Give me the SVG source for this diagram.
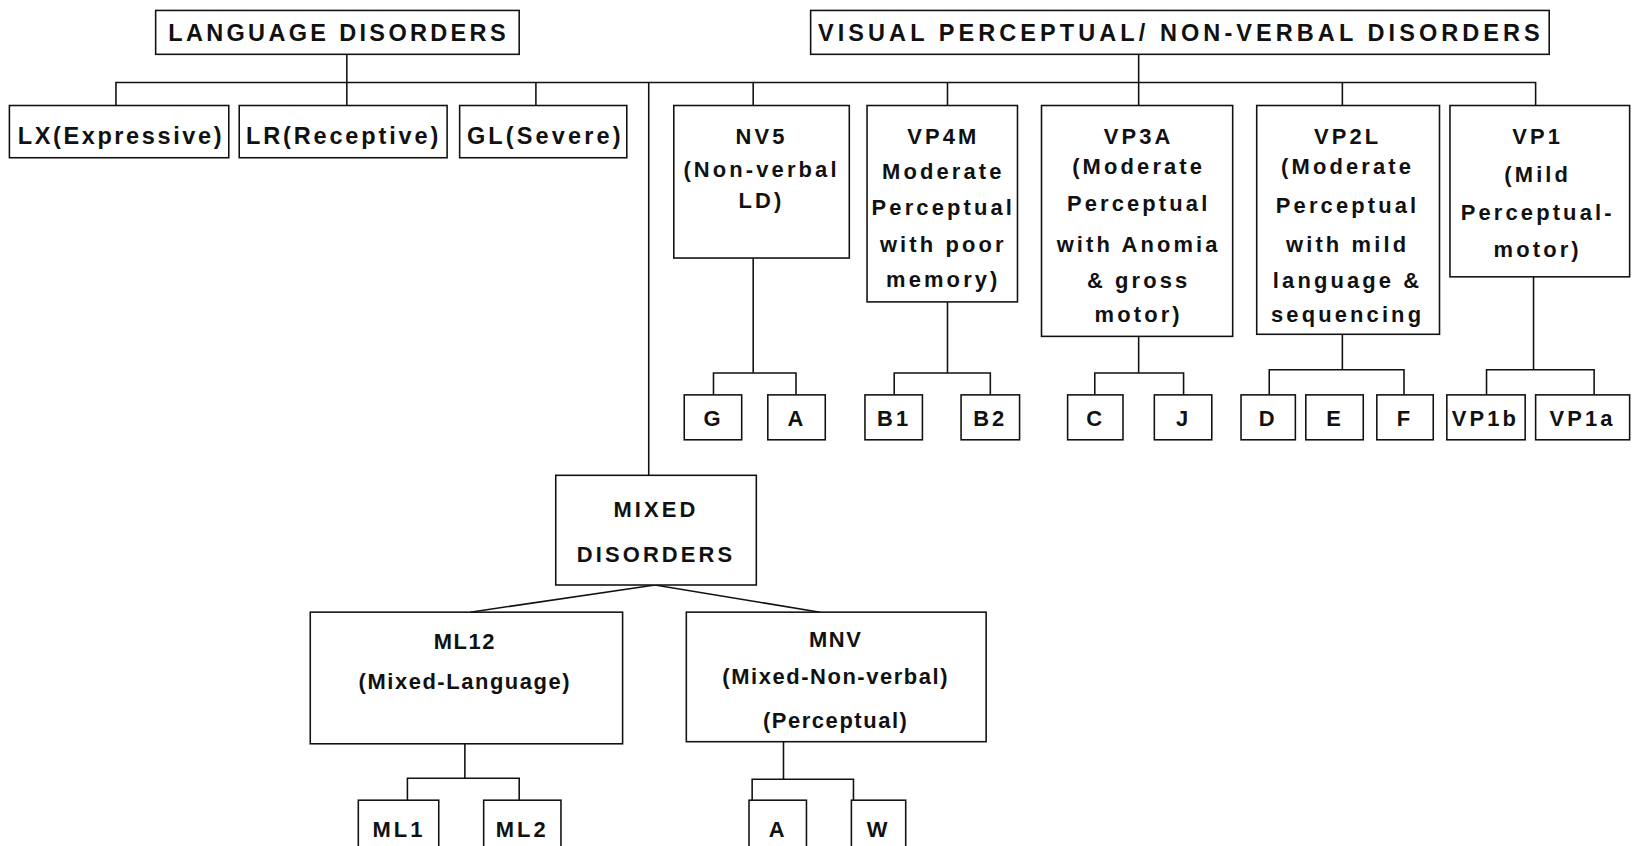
<svg xmlns="http://www.w3.org/2000/svg" width="1638" height="846" viewBox="0 0 1638 846">
<style>
.b{fill:#fff;stroke:#111;stroke-width:1.5}
.c{fill:none;stroke:#111;stroke-width:1.5}
text{font-family:"Liberation Sans",Arial,sans-serif;font-size:21px;font-weight:bold;fill:#111;text-anchor:middle;letter-spacing:3px}
text.t{font-size:22.5px;letter-spacing:1px}
</style>
<rect width="1638" height="846" fill="#fff"/>
<g transform="scale(1.04464)">
<g id="connectors">
<path class="c" d="M111,101V79H1470V101M332,52V101M513,79V101M621,79V455M721,79V101M907,79V101M1090,52V101M1285,79V101"/>
<path class="c" d="M721,247V357M683,378V357H762V378M907,289V357M856,378V357H948V378M1090,322V357M1048,378V357H1133V378M1285,320V354M1215,378V354H1344V378M1468,265V354M1423,378V354H1526V378"/>
<path class="c" d="M450,586L627,560L785,586M445,712V745M390,766V745H497V766M750,710V746M720,766V746H817V766"/>
</g>
<g id="lang"><rect class="b" x="149" y="10" width="348" height="42"/><text class="t" x="323" y="39" textLength="324">LANGUAGE DISORDERS</text></g>
<g id="visual"><rect class="b" x="776" y="10" width="707" height="42"/><text class="t" x="1129" y="39" textLength="692">VISUAL PERCEPTUAL/ NON-VERBAL DISORDERS</text></g>
<g id="lx"><rect class="b" x="9" y="101" width="210" height="50"/><text class="t" x="115" y="138" textLength="196">LX(Expressive)</text></g>
<g id="lr"><rect class="b" x="229" y="101" width="199" height="50"/><text class="t" x="328" y="138" textLength="185">LR(Receptive)</text></g>
<g id="gl"><rect class="b" x="440" y="101" width="160" height="50"/><text class="t" x="521" y="138" textLength="148">GL(Severe)</text></g>
<g id="nv5"><rect class="b" x="645" y="101" width="168" height="146"/><text x="729" y="138">NV5</text><text x="729" y="169">(Non-verbal</text><text x="729" y="199">LD)</text></g>
<g id="vp4m"><rect class="b" x="830" y="101" width="144" height="188"/><text x="903" y="138">VP4M</text><text x="903" y="171">Moderate</text><text x="903" y="206">Perceptual</text><text x="903" y="241">with poor</text><text x="903" y="275">memory)</text></g>
<g id="vp3a"><rect class="b" x="997" y="101" width="183" height="221"/><text x="1090" y="138">VP3A</text><text x="1090" y="167">(Moderate</text><text x="1090" y="202">Perceptual</text><text x="1090" y="241">with Anomia</text><text x="1090" y="276">&amp; gross</text><text x="1090" y="308">motor)</text></g>
<g id="vp2l"><rect class="b" x="1203" y="101" width="175" height="219"/><text x="1290" y="138">VP2L</text><text x="1290" y="167">(Moderate</text><text x="1290" y="204">Perceptual</text><text x="1290" y="241">with mild</text><text x="1290" y="276">language &amp;</text><text x="1290" y="308">sequencing</text></g>
<g id="vp1"><rect class="b" x="1388" y="101" width="172" height="164"/><text x="1472" y="138">VP1</text><text x="1472" y="174">(Mild</text><text x="1472" y="211">Perceptual-</text><text x="1472" y="246">motor)</text></g>
<g id="g"><rect class="b" x="655" y="378" width="55" height="43"/><text x="683" y="408">G</text></g>
<g id="a1"><rect class="b" x="735" y="378" width="55" height="43"/><text x="763" y="408">A</text></g>
<g id="b1"><rect class="b" x="828" y="378" width="55" height="43"/><text x="856" y="408">B1</text></g>
<g id="b2"><rect class="b" x="920" y="378" width="56" height="43"/><text x="948" y="408">B2</text></g>
<g id="cc"><rect class="b" x="1022" y="378" width="53" height="43"/><text x="1049" y="408">C</text></g>
<g id="j"><rect class="b" x="1105" y="378" width="55" height="43"/><text x="1133" y="408">J</text></g>
<g id="d"><rect class="b" x="1188" y="378" width="52" height="43"/><text x="1214" y="408">D</text></g>
<g id="e"><rect class="b" x="1250" y="378" width="55" height="43"/><text x="1278" y="408">E</text></g>
<g id="f"><rect class="b" x="1318" y="378" width="54" height="43"/><text x="1345" y="408">F</text></g>
<g id="vp1b"><rect class="b" x="1385" y="378" width="75" height="43"/><text x="1422" y="408">VP1b</text></g>
<g id="vp1a"><rect class="b" x="1470" y="378" width="90" height="43"/><text x="1515" y="408">VP1a</text></g>
<g id="mixed"><rect class="b" x="532" y="455" width="192" height="105"/><text x="628" y="495">MIXED</text><text x="628" y="538">DISORDERS</text></g>
<g id="ml12"><rect class="b" x="297" y="586" width="299" height="126"/><text x="445" y="621" style="letter-spacing:1.5px">ML12</text><text x="445" y="660" style="letter-spacing:1.5px">(Mixed-Language)</text></g>
<g id="mnv"><rect class="b" x="657" y="586" width="287" height="124"/><text x="800" y="619" style="letter-spacing:1.5px">MNV</text><text x="800" y="655" style="letter-spacing:1.5px">(Mixed-Non-verbal)</text><text x="800" y="697" style="letter-spacing:1.5px">(Perceptual)</text></g>
<g id="ml1"><rect class="b" x="343" y="766" width="77" height="60"/><text x="382" y="801">ML1</text></g>
<g id="ml2"><rect class="b" x="463" y="766" width="74" height="60"/><text x="500" y="801">ML2</text></g>
<g id="a2"><rect class="b" x="717" y="766" width="55" height="60"/><text x="745" y="801">A</text></g>
<g id="w"><rect class="b" x="815" y="766" width="52" height="60"/><text x="841" y="801">W</text></g>
</g>
</svg>
